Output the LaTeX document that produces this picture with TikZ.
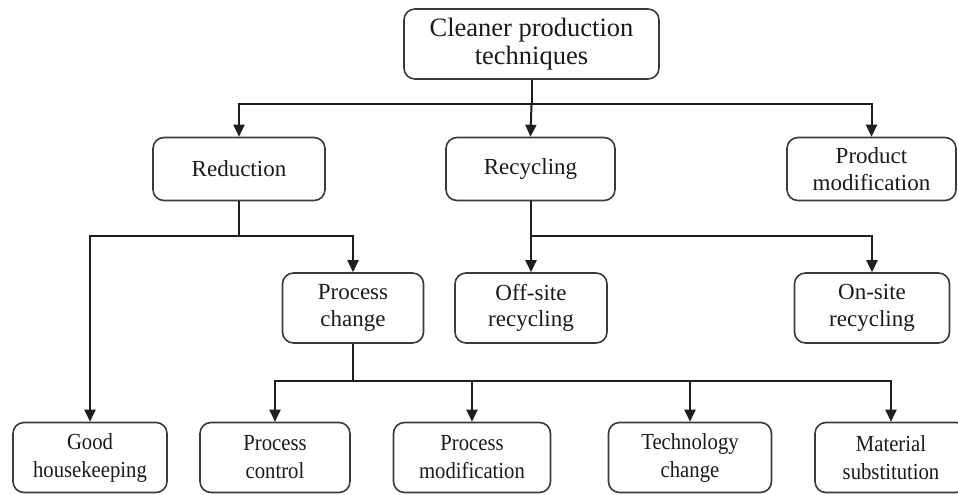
\documentclass[tikz,border=0pt]{standalone}
\usepackage{fontspec}
\setmainfont{Liberation Serif}
\newfontfamily\narrowserif[FakeStretch=0.9]{Liberation Serif}
\usetikzlibrary{arrows.meta}
\definecolor{ink}{HTML}{1E1E1E}
\definecolor{txt}{HTML}{1A1A1A}
\definecolor{frame}{HTML}{3A3A3A}
\begin{document}
\begin{tikzpicture}[x=1pt,y=-1pt,
  box/.style={draw=frame, line width=1.6pt, rounded corners=11pt, align=center, text=txt, inner sep=0pt},
  toptext/.style={font=\fontsize{26.5}{27.5}\selectfont},
  midtext/.style={font=\fontsize{23}{26.5}\selectfont},
  lowtext/.style={font=\narrowserif\fontsize{23}{28}\selectfont},
  conn/.style={draw=ink, line width=2pt},
  arr/.style={conn, -{Triangle[length=12pt,width=11pt]}}]
\useasboundingbox (0,0) rectangle (958,495);
% top
\node[box, toptext, minimum width=255pt, minimum height=70pt] (top) at (531.5,44) {Cleaner production\\techniques};
% second row
\node[box, midtext, minimum width=172pt, minimum height=63pt] (red) at (239,169) {Reduction};
\node[box, midtext, minimum width=169pt, minimum height=63pt] (rec) at (530.5,169) {Recycling};
\node[box, midtext, minimum width=169pt, minimum height=63pt] (prod) at (871.5,169) {Product\\modification};
% third row
\node[box, midtext, minimum width=141pt, minimum height=70pt] (pc) at (353,308) {Process\\change};
\node[box, midtext, minimum width=152pt, minimum height=70pt] (off) at (531,308) {Off-site\\recycling};
\node[box, midtext, minimum width=155pt, minimum height=70pt] (on) at (872,308) {On-site\\recycling};
% bottom row
\node[box, lowtext, minimum width=154pt, minimum height=70pt] (good) at (90,457.5) {Good\\housekeeping};
\node[box, lowtext, minimum width=150pt, minimum height=70pt] (ctrl) at (275,457.5) {Process\\control};
\node[box, lowtext, minimum width=157pt, minimum height=70pt] (pmod) at (472,457.5) {Process\\modification};
\node[box, lowtext, minimum width=163pt, minimum height=70pt] (tech) at (690,457.5) {Technology\\change};
\node[box, lowtext, minimum width=152pt, minimum height=70pt] (mat) at (891,457.5) {Material\\substitution};
% junctions
\coordinate (j1) at (531.5,104);
\coordinate (j2) at (239,236);
\coordinate (j3) at (530.5,236);
\coordinate (j4) at (353,381);
% connectors
\draw[conn] (top.south) -- (j1);
\draw[arr] (j1) -| (red.north);
\draw[arr] (j1) -- (rec.north);
\draw[arr] (j1) -| (prod.north);
\draw[conn] (red.south) -- (j2);
\draw[arr] (j2) -| (good.north);
\draw[arr] (j2) -| (pc.north);
\draw[conn] (rec.south) -- (j3);
\draw[arr] (j3) -| (off.north);
\draw[arr] (j3) -| (on.north);
\draw[conn] (pc.south) -- (j4);
\draw[arr] (j4) -| (ctrl.north);
\draw[arr] (j4) -| (pmod.north);
\draw[arr] (j4) -| (tech.north);
\draw[arr] (j4) -| (mat.north);
\end{tikzpicture}
\end{document}
